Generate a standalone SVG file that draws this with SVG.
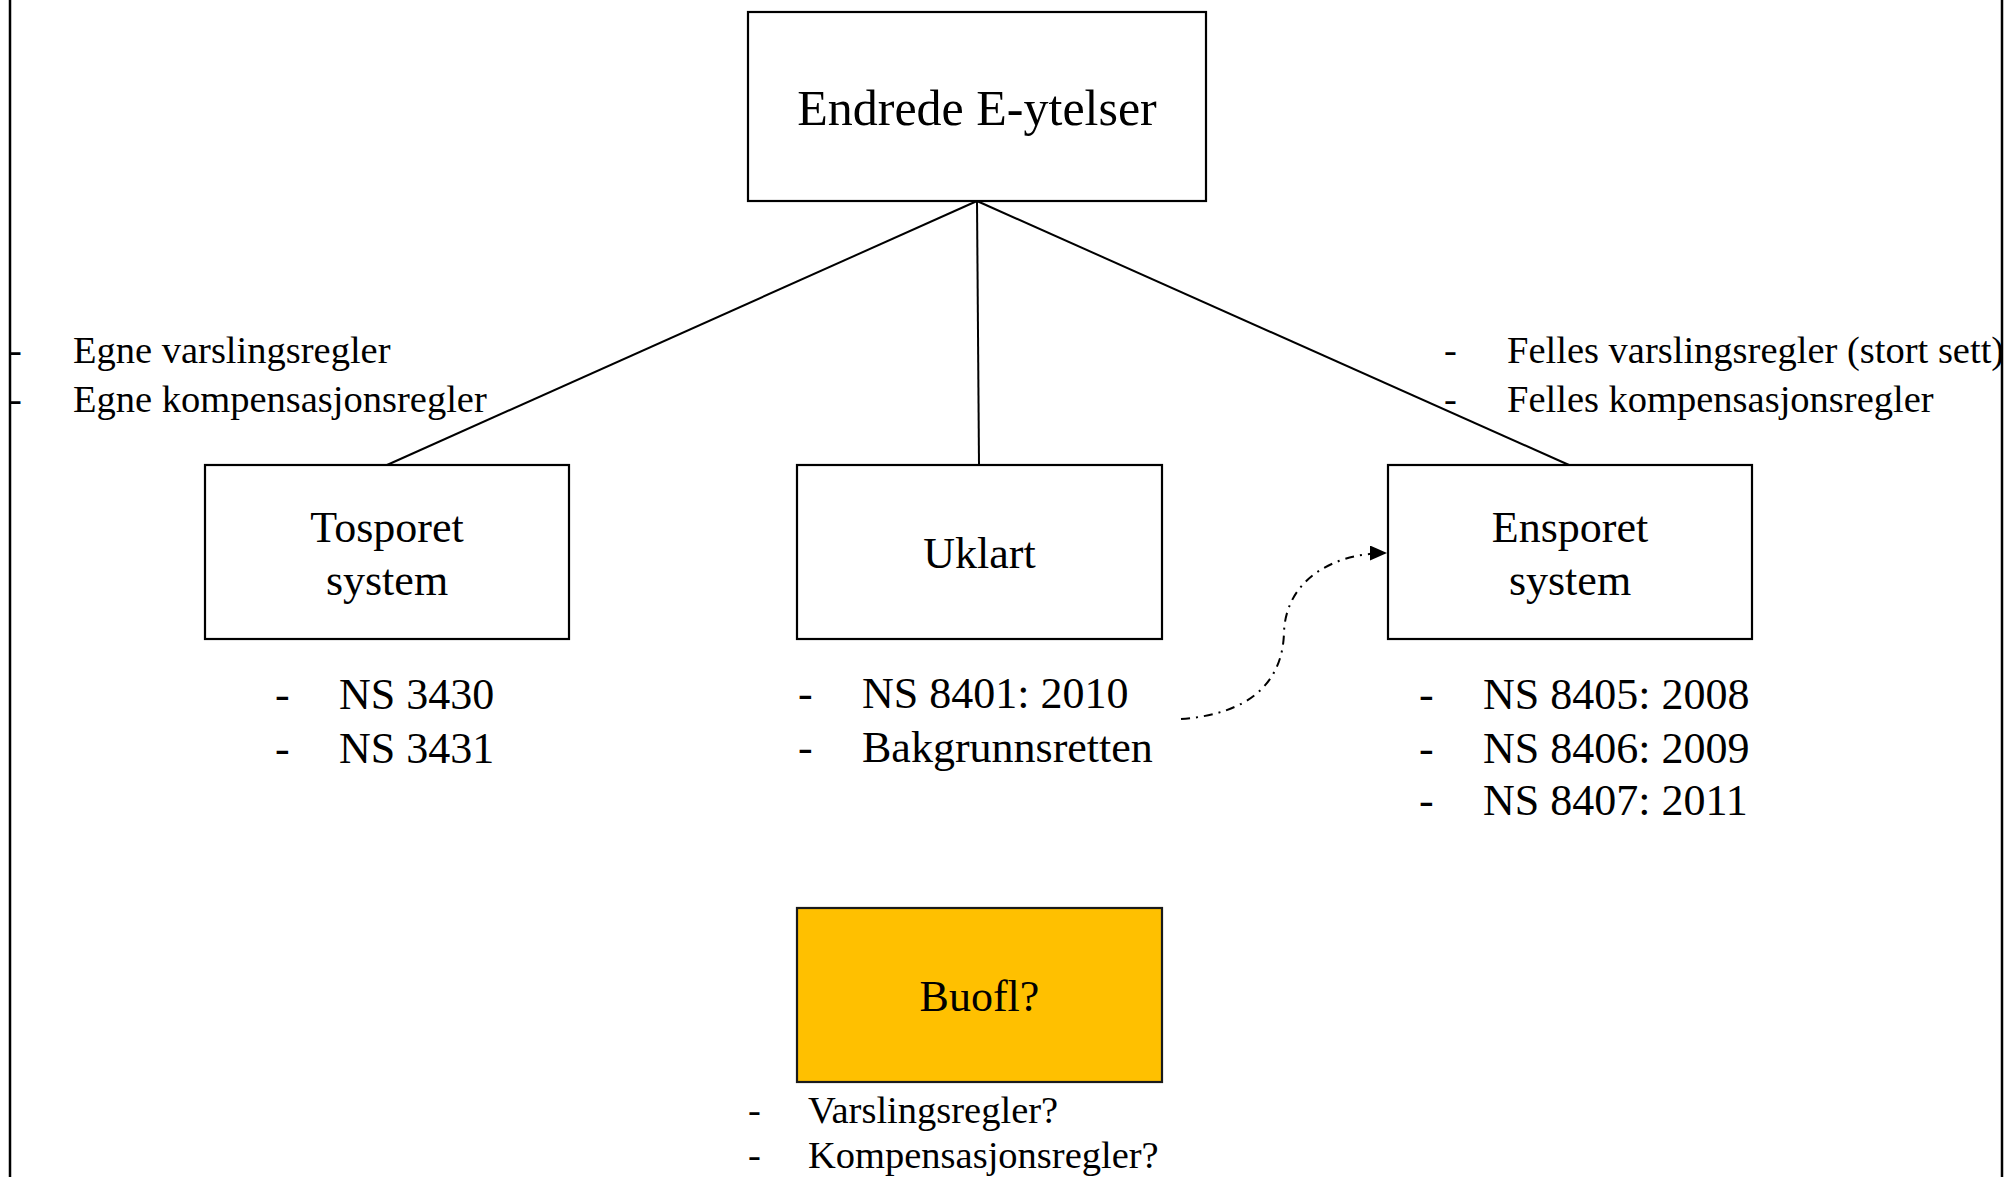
<svg xmlns="http://www.w3.org/2000/svg" width="2008" height="1177" viewBox="0 0 2008 1177">
  <defs>
    <style>
      .box { fill: #ffffff; stroke: #000000; stroke-width: 2.2; }
      .hl { fill: #ffc000; stroke: #1a1a1a; stroke-width: 2.2; }
      .frame { stroke: #000000; stroke-width: 2.5; fill: none; }
      .edge { stroke: #000000; stroke-width: 2; fill: none; }
      .dashdot { stroke: #000000; stroke-width: 2; fill: none; stroke-dasharray: 9 6 2 6; }
      text { font-family: "Liberation Serif", "Times New Roman", serif; fill: #000000; }
      .title { font-size: 50px; text-anchor: middle; }
      .label { font-size: 44px; text-anchor: middle; }
      .item { font-size: 44px; }
      .note { font-size: 38.5px; }
    </style>
    <marker id="arrowhead" markerWidth="17" markerHeight="15" refX="17" refY="7.5" orient="auto" markerUnits="userSpaceOnUse">
      <path d="M0,0 L17,7.5 L0,15 Z" fill="#000000"/>
    </marker>
  </defs>

  <rect width="2008" height="1177" fill="#ffffff"/>

  <!-- page frame edges -->
  <line class="frame" x1="10" y1="0" x2="10" y2="1177"/>
  <line class="frame" x1="2002" y1="0" x2="2002" y2="1177"/>

  <!-- connectors -->
  <g id="connectors">
    <line class="edge" x1="977" y1="201" x2="387" y2="465"/>
    <line class="edge" x1="977" y1="201" x2="979" y2="465"/>
    <line class="edge" x1="977" y1="201" x2="1569" y2="465"/>
    <path class="dashdot" d="M1181,719 C1250,714 1283,682 1284,632 C1286,582 1330,553 1387,553" marker-end="url(#arrowhead)"/>
  </g>

  <g id="node-endrede">
    <rect class="box" x="748" y="12" width="458" height="189"/>
    <text class="title" x="977" y="125">Endrede E-ytelser</text>
  </g>

  <g id="node-tosporet">
    <rect class="box" x="205" y="465" width="364" height="174"/>
    <text class="label" x="387" y="542">Tosporet</text>
    <text class="label" x="387" y="595">system</text>
  </g>

  <g id="node-uklart">
    <rect class="box" x="797" y="465" width="365" height="174"/>
    <text class="label" x="979.5" y="568">Uklart</text>
  </g>

  <g id="node-ensporet">
    <rect class="box" x="1388" y="465" width="364" height="174"/>
    <text class="label" x="1570" y="542">Ensporet</text>
    <text class="label" x="1570" y="595">system</text>
  </g>

  <g id="node-buofl">
    <rect class="hl" x="797" y="908" width="365" height="174"/>
    <text class="label" x="979.5" y="1011">Buofl?</text>
  </g>

  <!-- rule lists -->
  <g id="list-tosporet" class="item">
    <text x="275" y="709">-</text><text x="339" y="709">NS 3430</text>
    <text x="275" y="763">-</text><text x="339" y="763">NS 3431</text>
  </g>

  <g id="list-uklart" class="item">
    <text x="798" y="708">-</text><text x="862" y="708">NS 8401: 2010</text>
    <text x="798" y="762">-</text><text x="862" y="762">Bakgrunnsretten</text>
  </g>

  <g id="list-ensporet" class="item">
    <text x="1419" y="709">-</text><text x="1483" y="709">NS 8405: 2008</text>
    <text x="1419" y="763">-</text><text x="1483" y="763">NS 8406: 2009</text>
    <text x="1419" y="815">-</text><text x="1483" y="815">NS 8407: 2011</text>
  </g>

  <g id="notes-left" class="note">
    <text x="9" y="363">-</text><text x="73" y="363">Egne varslingsregler</text>
    <text x="9" y="412">-</text><text x="73" y="412">Egne kompensasjonsregler</text>
  </g>

  <g id="notes-right" class="note">
    <text x="1444" y="363">-</text><text x="1507" y="363">Felles varslingsregler (stort sett)</text>
    <text x="1444" y="412">-</text><text x="1507" y="412">Felles kompensasjonsregler</text>
  </g>

  <g id="notes-buofl" class="note">
    <text x="748" y="1123">-</text><text x="808" y="1123">Varslingsregler?</text>
    <text x="748" y="1168">-</text><text x="808" y="1168">Kompensasjonsregler?</text>
  </g>
</svg>
